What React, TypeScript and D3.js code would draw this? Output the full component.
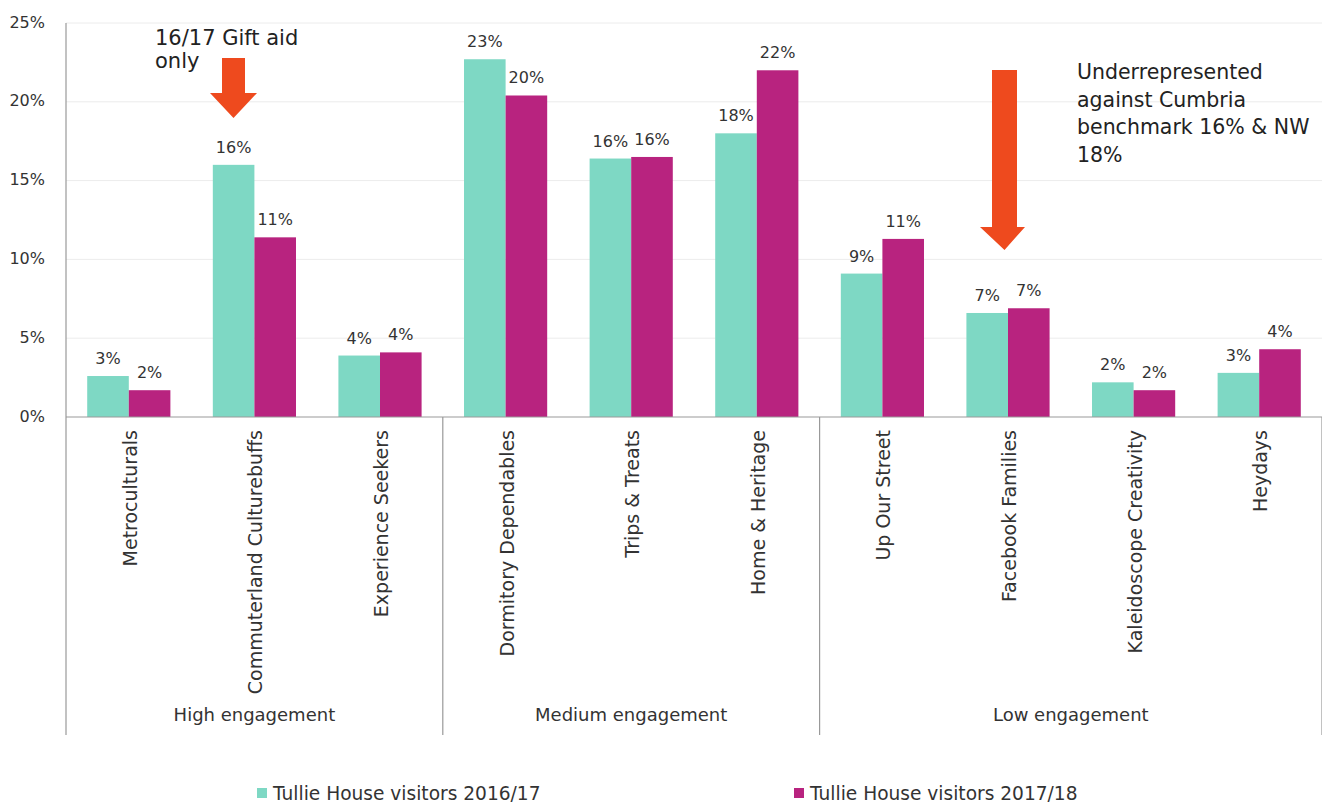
import React from "react";
import * as d3 from "d3";

const categories = [
  "Metroculturals",
  "Commuterland Culturebuffs",
  "Experience Seekers",
  "Dormitory Dependables",
  "Trips & Treats",
  "Home & Heritage",
  "Up Our Street",
  "Facebook Families",
  "Kaleidoscope Creativity",
  "Heydays",
];
const groups = ["High engagement", "Medium engagement", "Low engagement"];
const groupSizes = [3, 3, 4];
const seriesNames = ["Tullie House visitors 2016/17", "Tullie House visitors 2017/18"];
const values2016 = [2.6, 16.0, 3.9, 22.7, 16.4, 18.0, 9.1, 6.6, 2.2, 2.8];
const values2017 = [1.7, 11.4, 4.1, 20.4, 16.5, 22.0, 11.3, 6.9, 1.7, 4.3];
const labels2016 = ["3%", "16%", "4%", "23%", "16%", "18%", "9%", "7%", "2%", "3%"];
const labels2017 = ["2%", "11%", "4%", "20%", "16%", "22%", "11%", "7%", "2%", "4%"];
const yTicks = [0, 5, 10, 15, 20, 25];
const colors = ["#7ED8C4", "#B8237F"];

const W = 1322;
const H = 804;
const left = 66;
const right = 1322;
const top = 23;
const base = 417;
const FONT = "'DejaVu Sans', sans-serif";
const TXT = "#333333";

export default function App() {
  const y = d3.scaleLinear().domain([0, 25]).range([base, top]);
  const x0 = d3.scaleBand<string>().domain(categories).range([left, right]);
  const x1 = d3
    .scaleBand<string>()
    .domain(seriesNames)
    .range([0, x0.bandwidth()])
    .paddingInner(0)
    .paddingOuter(0.51);
  const seriesVals = [values2016, values2017];
  const seriesLabels = [labels2016, labels2017];

  const bounds: number[] = [left];
  let idx = 0;
  groupSizes.forEach((n) => {
    idx += n;
    const c = categories[idx - 1];
    bounds.push((x0(c) as number) + x0.bandwidth());
  });

  return (
    <svg
      width={W}
      height={H}
      style={{ position: "absolute", left: 0, top: 0, background: "#fff" }}
      fontFamily={FONT}
    >
      <rect x={0} y={0} width={W} height={H} fill="#fff" />
      {yTicks
        .filter((t) => t > 0)
        .map((t) => (
          <line key={t} x1={left} x2={right} y1={y(t)} y2={y(t)} stroke="#ececec" strokeWidth={1} />
        ))}
      {yTicks.map((t) => (
        <text
          key={t}
          x={45}
          y={y(t)}
          textAnchor="end"
          dominantBaseline="middle"
          fontSize={16}
          fill={TXT}
        >
          {t + "%"}
        </text>
      ))}
      {categories.map((c, i) => (
        <g key={c} transform={`translate(${x0(c)},0)`}>
          {seriesNames.map((s, k) => {
            const v = seriesVals[k][i];
            const bx = x1(s) as number;
            return (
              <g key={s}>
                <rect x={bx} y={y(v)} width={x1.bandwidth()} height={base - y(v)} fill={colors[k]} />
                <text
                  x={bx + x1.bandwidth() / 2}
                  y={y(v) - 12}
                  textAnchor="middle"
                  fontSize={16}
                  fill={TXT}
                >
                  {seriesLabels[k][i]}
                </text>
              </g>
            );
          })}
        </g>
      ))}
      <line x1={left} x2={right} y1={base} y2={base} stroke="#999" strokeWidth={1.2} />
      <line x1={left} x2={left} y1={top} y2={base} stroke="#999" strokeWidth={1.2} />
      {bounds.map((b, i) => (
        <line key={i} x1={b} x2={b} y1={base} y2={735} stroke="#999" strokeWidth={1.2} />
      ))}
      {categories.map((c) => {
        const cx = (x0(c) as number) + x0.bandwidth() / 2;
        return (
          <text
            key={c}
            transform={`translate(${cx + 8},430) rotate(-90)`}
            textAnchor="end"
            fontSize={19}
            fill={TXT}
          >
            {c}
          </text>
        );
      })}
      {groups.map((g, i) => (
        <text
          key={g}
          x={(bounds[i] + bounds[i + 1]) / 2}
          y={721}
          textAnchor="middle"
          fontSize={18}
          fill={TXT}
        >
          {g}
        </text>
      ))}
      <text x={155} y={45} fontSize={21} fill="#222">
        16/17 Gift aid
      </text>
      <text x={155} y={68} fontSize={21} fill="#222">
        only
      </text>
      <path d="M222,58 L245,58 L245,93 L257,93 L233.5,118 L210,93 L222,93 Z" fill="#EE4A1E" />
      <path d="M992,70 L1017,70 L1017,227 L1025,227 L1004.5,250 L980,227 L992,227 Z" fill="#EE4A1E" />
      {["Underrepresented", "against Cumbria", "benchmark 16% & NW", "18%"].map((l, i) => (
        <text key={i} x={1077} y={79 + i * 27.5} fontSize={20.5} fill="#222">
          {l}
        </text>
      ))}
      {seriesNames.map((s, k) => {
        const lx = k === 0 ? 257 : 794;
        return (
          <g key={s}>
            <rect x={lx} y={788} width={10} height={10} fill={colors[k]} />
            <text x={lx + 16} y={800} fontSize={18.6} fill={TXT}>
              {s}
            </text>
          </g>
        );
      })}
    </svg>
  );
}
